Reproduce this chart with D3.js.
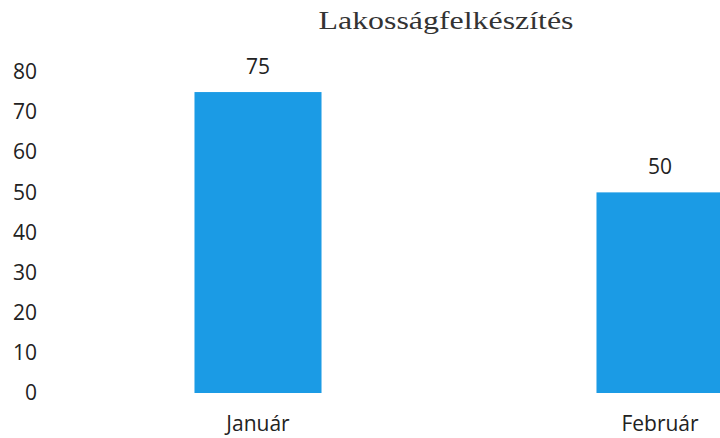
<!DOCTYPE html>
<html><head><meta charset="utf-8">
<script src="https://cdn.jsdelivr.net/npm/d3@7"></script>
<style>body{margin:0;background:#fff;}svg{display:block;}</style>
</head><body>
<svg id="c" width="720" height="438"></svg>
<script>
const title = "Lakosságfelkészítés";
const categories = ["Január", "Február"];
const values = [75, 50];
const yTicks = [0, 10, 20, 30, 40, 50, 60, 70, 80];

const svg = d3.select("#c");
const x = d3.scaleBand().domain(categories).range([57, 861]).paddingInner(0.684).paddingOuter(0.342);
const y = d3.scaleLinear().domain([0, 80]).range([393, 72]);
const sans = "Open Sans, Noto Sans, sans-serif";

svg.append("text").attr("x", 446).attr("y", 29).attr("text-anchor", "middle")
  .attr("font-family", "Liberation Serif, Times New Roman, serif").attr("font-size", 25)
  .attr("textLength", 255).attr("lengthAdjust", "spacingAndGlyphs")
  .attr("fill", "#333").text(title);

const yAxis = d3.axisLeft(y).tickValues(yTicks).tickSize(0).tickPadding(0);
const gy = svg.append("g").attr("transform", "translate(37,0)").call(yAxis);
gy.select(".domain").remove();
gy.selectAll("text").attr("font-family", sans).attr("font-size", 21).attr("fill", "#222");

svg.selectAll("rect.bar").data(values).enter().append("rect").attr("class", "bar")
  .attr("x", (d, i) => x(categories[i])).attr("width", x.bandwidth())
  .attr("y", d => y(d)).attr("height", d => y(0) - y(d)).attr("fill", "#1b9be5");

svg.selectAll("text.val").data(values).enter().append("text").attr("class", "val")
  .attr("x", (d, i) => x(categories[i]) + x.bandwidth() / 2).attr("y", d => y(d) - 18)
  .attr("text-anchor", "middle").attr("font-family", sans)
  .attr("font-size", 21).attr("fill", "#222").text(d => d);

const xAxis = d3.axisBottom(x).tickSize(0).tickPadding(0);
const gx = svg.append("g").attr("transform", "translate(0,416)").call(xAxis);
gx.select(".domain").remove();
gx.selectAll("text").attr("font-family", sans).attr("font-size", 21).attr("fill", "#222");
</script>
</body></html>
